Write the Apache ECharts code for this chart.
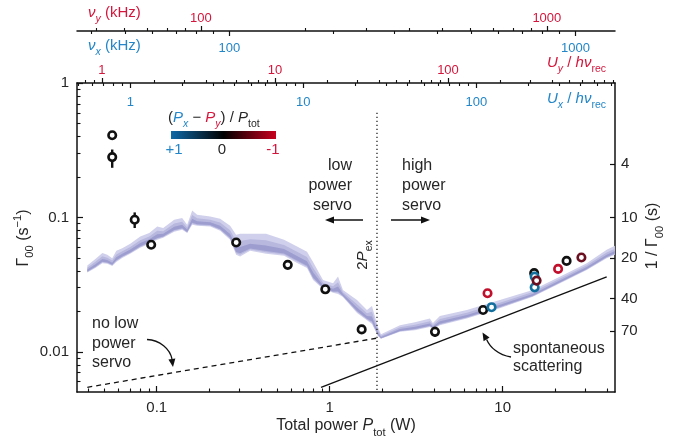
<!DOCTYPE html>
<html>
<head>
<meta charset="utf-8">
<script src="https://cdn.jsdelivr.net/npm/echarts@6/dist/echarts.min.js"></script>
<style>
  html, body { margin: 0; padding: 0; background: #fff; }
  #chart { width: 690px; height: 442px; }
</style>
</head>
<body>
<div id="chart"></div>
<script>
const FONT = 'Liberation Sans, Arial, Helvetica, sans-serif';
const RED = '#d4163c';
const BLUE = '#2386c8';
const INK = '#262626';

// axis ranges: total power (W), Gamma00 (1/s)
const pMin = 0.03461, pMax = 44.57;
const gMin = 0.005029, gMax = 1;

// calibration of the top axes against total power
const uyPerWatt = 20.72;     // U_y / h nu_rec per W
const uxPerWatt = 14.22;     // U_x / h nu_rec per W
const nuY100 = 0.1799;       // P giving nu_y = 100 kHz
const nuX100 = 0.2632;       // P giving nu_x = 100 kHz

const rightTicks = [4, 10, 20, 40, 70];   // 1/Gamma00 (s)

// measured points
const ptP = [0.0553, 0.0553, 0.0746, 0.0929, 0.288, 0.572, 0.943, 1.53, 4.06,
             7.70, 8.62, 8.17, 15.2, 15.3, 15.7, 15.3, 20.9, 23.4, 28.5];
const ptG = [0.409, 0.281, 0.0961, 0.0626, 0.0651, 0.0444, 0.0292, 0.0147, 0.0141,
             0.0205, 0.0215, 0.0273, 0.0385, 0.0363, 0.0339, 0.0302, 0.0414, 0.0475, 0.0503];
// k = balanced, b = mostly x, r = mostly y, d = partly y
const ptKind = ['k', 'k', 'k', 'k', 'k', 'k', 'k', 'k', 'k',
                'k', 'b', 'r', 'k', 'b', 'd', 'b', 'r', 'k', 'd'];
const kindColor = { k: '#111111', b: '#13709e', r: '#c0102c', d: '#6a0f1f' };

// error bars
const errP = [0.0553, 0.0746, 4.06];
const errLo = [0.234, 0.0834, 0.01294];
const errHi = [0.320, 0.109, 0.01537];

// simulated band
const bandP = [0.0397, 0.0442, 0.0485, 0.0518, 0.0553, 0.0584, 0.0632, 0.0703, 0.0803, 0.0905,
  0.1007, 0.109, 0.1262, 0.1403, 0.150, 0.1603, 0.1713, 0.2037, 0.2326, 0.2657,
  0.2877, 0.3034, 0.3465, 0.4287, 0.5446, 0.6475, 0.7393, 0.8011, 0.9147, 1.045,
  1.117, 1.193, 1.438, 1.642, 1.755, 1.900, 1.978, 2.546, 3.108, 3.794,
  3.948, 4.333, 6.204, 9.623, 14.92, 23.45, 30.59, 39.9, 44.5];
const bandHi = [0.0439, 0.0491, 0.0543, 0.0527, 0.0498, 0.0564, 0.0591, 0.0637, 0.0721, 0.0765,
  0.0856, 0.0833, 0.0961, 0.0990, 0.0882, 0.1127, 0.1047, 0.1017, 0.0978, 0.0867,
  0.0743, 0.0756, 0.0756, 0.0756, 0.0682, 0.0608, 0.0555, 0.0467, 0.0343, 0.0324,
  0.0363, 0.0289, 0.0243, 0.0205, 0.0219, 0.0153, 0.0135, 0.0158, 0.0166, 0.0177,
  0.0164, 0.0185, 0.0205, 0.0243, 0.0289, 0.0385, 0.0457, 0.0574, 0.0615];
const bandLo = [0.0389, 0.0421, 0.0457, 0.0452, 0.0436, 0.0467, 0.0500, 0.0536, 0.0594, 0.0637,
  0.0682, 0.0706, 0.0782, 0.0809, 0.0765, 0.0882, 0.0867, 0.0856, 0.0795, 0.0682,
  0.0527, 0.0512, 0.0564, 0.0536, 0.0518, 0.0459, 0.0421, 0.0343, 0.0294, 0.0275,
  0.0270, 0.0256, 0.0195, 0.0172, 0.0161, 0.0131, 0.0125, 0.0141, 0.0145, 0.0153,
  0.0148, 0.0158, 0.0177, 0.0211, 0.0257, 0.0343, 0.0407, 0.0498, 0.0527];

// model lines
const noServoP = [0.0397, 1.876];
const noServoG = [0.00545, 0.01266];
const spontP = [0.891, 39.9];
const spontG = [0.00545, 0.0361];
const pEx2 = 1.876;
const pEx2Top = 0.60;

const L = Math.log10;

function fmt(x) {
  return x >= 1 ? String(Math.round(x)) : String(+x.toPrecision(1));
}

// log-decade tick positions inside [lo, hi] (log10 units)
function decadeTicks(lo, hi, minor) {
  const out = [];
  for (let e = Math.floor(lo) - 1; e <= Math.ceil(hi); e++) {
    for (let k = minor ? 2 : 1; k <= (minor ? 9 : 1); k++) {
      const v = e + L(k);
      if (v >= lo - 1e-9 && v <= hi + 1e-9) out.push(v);
    }
  }
  return out;
}

// major (labelled) + minor axis for one log scale
function logAxes(cfg) {
  const base = {
    type: 'value', min: cfg.lo, max: cfg.hi, position: cfg.position,
    offset: cfg.offset || 0, splitLine: { show: false }, silent: true,
    axisPointer: { show: false }
  };
  const majors = cfg.majors || decadeTicks(cfg.lo, cfg.hi, false);
  const major = Object.assign({}, base, {
    axisLine: { show: cfg.line !== false, onZero: false, lineStyle: { color: '#111', width: 1.5 } },
    axisTick: { show: true, inside: cfg.tickInside, length: cfg.majorLen || 6,
      lineStyle: { color: '#111', width: 1.2 }, customValues: majors },
    axisLabel: { show: true, inside: !!cfg.labelInside, margin: cfg.margin,
      color: cfg.color || INK, fontSize: cfg.fontSize || 15, fontFamily: FONT,
      customValues: majors,
      formatter: cfg.formatter || (v => fmt(Math.pow(10, v))) }
  });
  const list = [major];
  if (cfg.minors !== false) {
    list.push(Object.assign({}, base, {
      axisLine: { show: false, onZero: false },
      axisTick: { show: true, inside: cfg.tickInside, length: cfg.minorLen || 3.5,
        lineStyle: { color: '#111', width: 1.1 }, customValues: decadeTicks(cfg.lo, cfg.hi, true) },
      axisLabel: { show: false }
    }));
  }
  return list;
}

const xlo = L(pMin), xhi = L(pMax);
const ylo = L(gMin), yhi = L(gMax);
const nuY = p => 2 + 0.5 * (L(p) - L(nuY100));
const nuX = p => 2 + 0.5 * (L(p) - L(nuX100));

const xAxes = [].concat(
  logAxes({ lo: xlo, hi: xhi, position: 'bottom', tickInside: true, margin: 8 }),
  logAxes({ lo: xlo + L(uyPerWatt), hi: xhi + L(uyPerWatt), position: 'top',
    tickInside: false, margin: 6, color: RED, fontSize: 13, majorLen: 5, minorLen: 3 }),
  logAxes({ lo: xlo + L(uxPerWatt), hi: xhi + L(uxPerWatt), position: 'top', line: false,
    tickInside: true, labelInside: true, margin: 13, color: BLUE, fontSize: 13, majorLen: 5, minorLen: 3 }),
  logAxes({ lo: nuY(pMin), hi: nuY(pMax), position: 'top', offset: 52,
    tickInside: false, margin: 6, color: RED, fontSize: 13, majorLen: 5, minorLen: 3 }),
  logAxes({ lo: nuX(pMin), hi: nuX(pMax), position: 'top', offset: 52, line: false,
    tickInside: true, labelInside: true, margin: 11, color: BLUE, fontSize: 13, majorLen: 5, minorLen: 3 })
);

const yAxes = [].concat(
  logAxes({ lo: ylo, hi: yhi, position: 'left', tickInside: true, margin: 8 }),
  logAxes({ lo: ylo, hi: yhi, position: 'right', tickInside: true, margin: 6, majorLen: 5,
    majors: rightTicks.map(t => -L(t)), minors: false,
    formatter: v => String(Math.round(1 / Math.pow(10, v))) })
);

// scatter series, one per colour class
const kinds = ['k', 'b', 'r', 'd'];
const scatterSeries = kinds.map(k => ({
  type: 'scatter', z: 5, symbol: 'circle', symbolSize: 7.5,
  itemStyle: { color: '#fff', borderColor: kindColor[k], borderWidth: 2.6, opacity: 1 },
  data: ptP.map((p, i) => [L(p), L(ptG[i]), ptKind[i]]).filter(d => d[2] === k).map(d => [d[0], d[1]])
}));

function lerpPt(a, b, f) { return [a[0] + (b[0] - a[0]) * f, a[1] + (b[1] - a[1]) * f]; }

const bandSeries = {
  type: 'custom', z: 1, silent: true,
  data: bandP.map((p, i) => [L(p), L(bandHi[i]), L(bandLo[i])]),
  encode: { x: 0, y: [1, 2] },
  renderItem: function (params, api) {
    if (params.dataIndex !== 0) return null;
    const top = bandP.map((p, i) => api.coord([L(p), L(bandHi[i])]));
    const bot = bandP.map((p, i) => api.coord([L(p), L(bandLo[i])]));
    function layer(f0, f1, fill) {
      const pts = [];
      for (let i = 0; i < top.length; i++) pts.push(lerpPt(bot[i], top[i], f1));
      for (let i = top.length - 1; i >= 0; i--) pts.push(lerpPt(bot[i], top[i], f0));
      return { type: 'polygon', shape: { points: pts }, style: { fill: fill } };
    }
    return { type: 'group', children: [
      layer(0, 1, '#d0d0ec'),
      layer(0.08, 0.68, '#b8b8df'),
      layer(0.14, 0.42, '#9d9dd0')
    ] };
  }
};

const errSeries = {
  type: 'custom', z: 4, silent: true,
  data: errP.map((p, i) => [L(p), L(errLo[i]), L(errHi[i])]),
  encode: { x: 0, y: [1, 2] },
  renderItem: function (params, api) {
    const a = api.coord([api.value(0), api.value(1)]);
    const b = api.coord([api.value(0), api.value(2)]);
    return { type: 'line', shape: { x1: a[0], y1: a[1], x2: b[0], y2: b[1] },
      style: { stroke: '#111', lineWidth: 2.4 } };
  }
};

function lineSeries(ps, gs, style) {
  return { type: 'line', z: 2, symbol: 'none', silent: true, animation: false,
    lineStyle: Object.assign({ color: '#111', width: 1.3 }, style),
    data: ps.map((p, i) => [L(p), L(gs[i])]) };
}

// rich text styles
function rich(size, color) {
  const f = { fontFamily: FONT, fill: color, color: color, verticalAlign: 'bottom' };
  return {
    n: Object.assign({}, f, { fontSize: size, padding: [0, 0, 4, 0] }),
    i: Object.assign({}, f, { fontSize: size, fontStyle: 'italic', padding: [0, 0, 4, 0] }),
    s: Object.assign({}, f, { fontSize: size * 0.7, padding: [0, 0, 0, 0] }),
    si: Object.assign({}, f, { fontSize: size * 0.7, fontStyle: 'italic', padding: [0, 0, 0, 0] }),
    p: Object.assign({}, f, { fontSize: size * 0.7, padding: [0, 0, 12, 0] }),
    bi: Object.assign({}, f, { fontSize: size, fontStyle: 'italic', fill: BLUE, color: BLUE, padding: [0, 0, 4, 0] }),
    bs: Object.assign({}, f, { fontSize: size * 0.7, fontStyle: 'italic', fill: BLUE, color: BLUE }),
    ri: Object.assign({}, f, { fontSize: size, fontStyle: 'italic', fill: RED, color: RED, padding: [0, 0, 4, 0] }),
    rs: Object.assign({}, f, { fontSize: size * 0.7, fontStyle: 'italic', fill: RED, color: RED })
  };
}

function rtext(x, y, text, size, color, align, rot) {
  return { type: 'text', x: x, y: y, rotation: rot || 0, z: 10, silent: true,
    style: { text: text, rich: rich(size, color), fill: color, fontFamily: FONT, fontSize: size,
      textAlign: align || 'left', textVerticalAlign: 'middle' } };
}

function ptext(x, y, text, align, lh) {
  return { type: 'text', x: x, y: y, z: 10, silent: true,
    style: { text: text, fill: INK, fontFamily: FONT, fontSize: 16, lineHeight: lh,
      textAlign: align, textVerticalAlign: 'top' } };
}

function arrowHead(tip, dir, len, half) {
  const n = Math.hypot(dir[0], dir[1]);
  const ux = dir[0] / n, uy = dir[1] / n;
  const bx = tip[0] - ux * len, by = tip[1] - uy * len;
  return { type: 'polygon', z: 10, silent: true,
    shape: { points: [tip, [bx - uy * half, by + ux * half], [bx + uy * half, by - ux * half]] },
    style: { fill: '#111' } };
}

const graphics = [
  // top-left axis names
  rtext(88, 15, '{ri|ν}{rs|y}{n| (kHz)}', 15, RED, 'left'),
  rtext(88, 48, '{bi|ν}{bs|x}{n| (kHz)}', 15, BLUE, 'left'),
  rtext(606, 65, '{i|U}{si|y}{n| / }{i|hν}{s|rec}', 15, RED, 'right'),
  rtext(606, 101, '{i|U}{si|x}{n| / }{i|hν}{s|rec}', 15, BLUE, 'right'),
  // axis titles
  rtext(24, 238, '{n|Γ}{s|00}{n| (s}{p|−1}{n|)}', 16, INK, 'center', Math.PI / 2),
  rtext(655, 236, '{n|1 / Γ}{s|00}{n| (s)}', 16, INK, 'center', Math.PI / 2),
  rtext(346, 428, '{n|Total power }{i|P}{s|tot}{n| (W)}', 16, INK, 'center'),
  // colour bar
  rtext(168, 120, '{n|(}{bi|P}{bs|x}{n| − }{ri|P}{rs|y}{n|) / }{i|P}{s|tot}', 15, INK, 'left'),
  { type: 'rect', z: 10, silent: true, shape: { x: 171, y: 131, width: 105, height: 8 },
    style: { fill: { type: 'linear', x: 0, y: 0, x2: 1, y2: 0, colorStops: [
      { offset: 0, color: '#0f6aa8' }, { offset: 0.5, color: '#000000' }, { offset: 1, color: '#c8001e' }] } } },
  { type: 'text', x: 174, y: 150, z: 10, silent: true, style: { text: '+1', fill: BLUE, fontFamily: FONT, fontSize: 15, textAlign: 'center', textVerticalAlign: 'middle' } },
  { type: 'text', x: 222, y: 150, z: 10, silent: true, style: { text: '0', fill: INK, fontFamily: FONT, fontSize: 15, textAlign: 'center', textVerticalAlign: 'middle' } },
  { type: 'text', x: 273, y: 150, z: 10, silent: true, style: { text: '-1', fill: RED, fontFamily: FONT, fontSize: 15, textAlign: 'center', textVerticalAlign: 'middle' } },
  // 2 P_ex
  rtext(365, 255, '{n|2}{i|P}{s|ex}', 15, INK, 'center', Math.PI / 2),
  // servo annotations
  ptext(352, 156, 'low\npower\nservo', 'right', 20),
  ptext(402, 156, 'high\npower\nservo', 'left', 20),
  { type: 'line', z: 10, silent: true, shape: { x1: 363, y1: 220, x2: 331, y2: 220 }, style: { stroke: '#111', lineWidth: 1.5 } },
  arrowHead([325, 220], [-1, 0], 9, 3.5),
  { type: 'line', z: 10, silent: true, shape: { x1: 391, y1: 220, x2: 424, y2: 220 }, style: { stroke: '#111', lineWidth: 1.5 } },
  arrowHead([430, 220], [1, 0], 9, 3.5),
  ptext(92, 314, 'no low\npower\nservo', 'left', 19.5),
  { type: 'bezierCurve', z: 10, silent: true,
    shape: { x1: 147, y1: 339.5, cpx1: 160, cpy1: 340, cpx2: 170, cpy2: 349, x2: 172, y2: 359 },
    style: { stroke: '#111', lineWidth: 1.3, fill: null } },
  arrowHead([173, 367], [0.14, 0.99], 8, 3.5),
  ptext(513, 340, 'spontaneous\nscattering', 'left', 18),
  { type: 'bezierCurve', z: 10, silent: true,
    shape: { x1: 511, y1: 357, cpx1: 498, cpy1: 355, cpx2: 490, cpy2: 347, x2: 486.6, y2: 339.4 },
    style: { stroke: '#111', lineWidth: 1.3, fill: null } },
  arrowHead([482.5, 332.5], [-0.51, -0.86], 8, 3.5)
];

const chart = echarts.init(document.getElementById('chart'), null, { renderer: 'canvas' });
chart.setOption({
  animation: false,
  backgroundColor: '#fff',
  textStyle: { fontFamily: FONT },
  grid: { left: 77, right: 75, top: 83, bottom: 50, containLabel: false, outerBoundsMode: 'none' },
  xAxis: xAxes,
  yAxis: yAxes,
  series: [
    bandSeries,
    lineSeries(noServoP, noServoG, { type: [5, 4] }),
    lineSeries(spontP, spontG, {}),
    lineSeries([pEx2, pEx2], [pEx2Top, gMin], { type: [1.2, 2.8], width: 1.2 }),
    errSeries
  ].concat(scatterSeries),
  graphic: graphics
});
</script>
</body>
</html>
